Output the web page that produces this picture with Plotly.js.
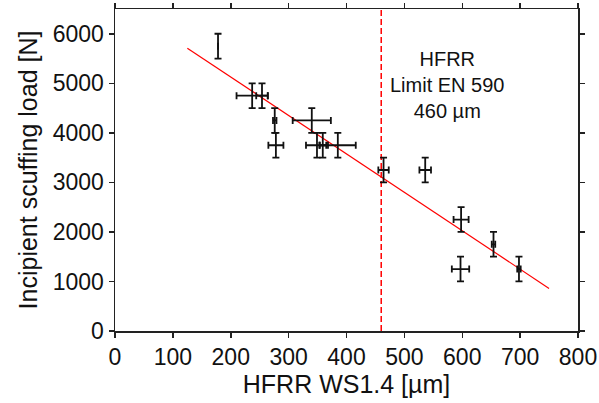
<!DOCTYPE html>
<html>
<head>
<meta charset="utf-8">
<script src="https://cdn.plot.ly/plotly-3.0.1.min.js"></script>
<style>html,body{margin:0;padding:0;background:#fff;}#chart{width:599px;height:403px;}</style>
</head>
<body>
<div id="chart"></div>
<script>
// Measured points (HFRR WS1.4 in µm, incipient scuffing load in N)
const wearScar = [178, 237, 254, 276, 278, 340, 349, 359, 385, 464, 536, 598, 597, 654, 698];
const scuffLoad = [5750, 4750, 4750, 4250, 3750, 4250, 3750, 3750, 3750, 3250, 3250, 2250, 1250, 1750, 1250];
const wearErr = [0, 27, 10, 3, 13, 33, 19, 6, 31, 9, 10, 13, 15, 3, 3];
const loadErr = [250, 250, 250, 250, 250, 250, 250, 250, 250, 250, 250, 250, 250, 250, 250];
// Linear fit end points
const fitX = [125, 750];
const fitY = [5710, 860];
// EN 590 limit
const limitX = [460, 460];
const limitY = [0, 6500];
const xTicks = [0, 100, 200, 300, 400, 500, 600, 700, 800];
const yTicks = [0, 1000, 2000, 3000, 4000, 5000, 6000];
const noteText = 'HFRR<br>Limit EN 590<br>460 µm';

const FONT = 'Arial, "Liberation Sans", sans-serif';

const traces = [
  {
    x: fitX, y: fitY, mode: 'lines', type: 'scatter',
    line: {color: '#ff0000', width: 1.2}, hoverinfo: 'skip'
  },
  {
    x: limitX, y: limitY, mode: 'lines', type: 'scatter',
    line: {color: '#ff0000', width: 1.5, dash: '6px,3px'}, hoverinfo: 'skip'
  },
  {
    x: wearScar, y: scuffLoad, mode: 'markers', type: 'scatter',
    marker: {size: 2, color: '#111', opacity: 0},
    error_y: {type: 'data', array: loadErr, visible: true, color: '#111', thickness: 1.8, width: 3.5},
    error_x: {type: 'data', array: wearErr, visible: true, color: '#111', thickness: 1.8, width: 3.5}
  }
];

const layout = {
  width: 599, height: 403,
  margin: {l: 115, r: 21, t: 9, b: 72},
  paper_bgcolor: '#fff', plot_bgcolor: '#fff',
  showlegend: false,
  font: {family: FONT, color: '#111', size: 23},
  xaxis: {
    range: [0, 800], tickvals: xTicks, showgrid: false, zeroline: false,
    showline: true, linecolor: '#222', linewidth: 1.5, mirror: 'ticks',
    ticks: 'outside', ticklen: 5, tickwidth: 1.5, tickcolor: '#222',
    tickfont: {family: FONT, size: 23, color: '#111'},
    title: {text: 'HFRR WS1.4 [µm]', font: {family: FONT, size: 25, color: '#111'}, standoff: 6}
  },
  yaxis: {
    range: [0, 6500], tickvals: yTicks, showgrid: false, zeroline: false,
    showline: true, linecolor: '#222', linewidth: 1.5, mirror: 'ticks',
    ticks: 'outside', ticklen: 5, tickwidth: 1.5, tickcolor: '#222',
    tickfont: {family: FONT, size: 23, color: '#111'},
    title: {text: 'Incipient scuffing load [N]', font: {family: FONT, size: 25, color: '#111'}, standoff: 8}
  },
  annotations: [{
    x: 575, y: 4966, xref: 'x', yref: 'y', text: noteText, showarrow: false,
    align: 'center', font: {family: FONT, size: 20, color: '#111'}
  }]
};

Plotly.newPlot('chart', traces, layout, {displayModeBar: false, staticPlot: true});
</script>
</body>
</html>
